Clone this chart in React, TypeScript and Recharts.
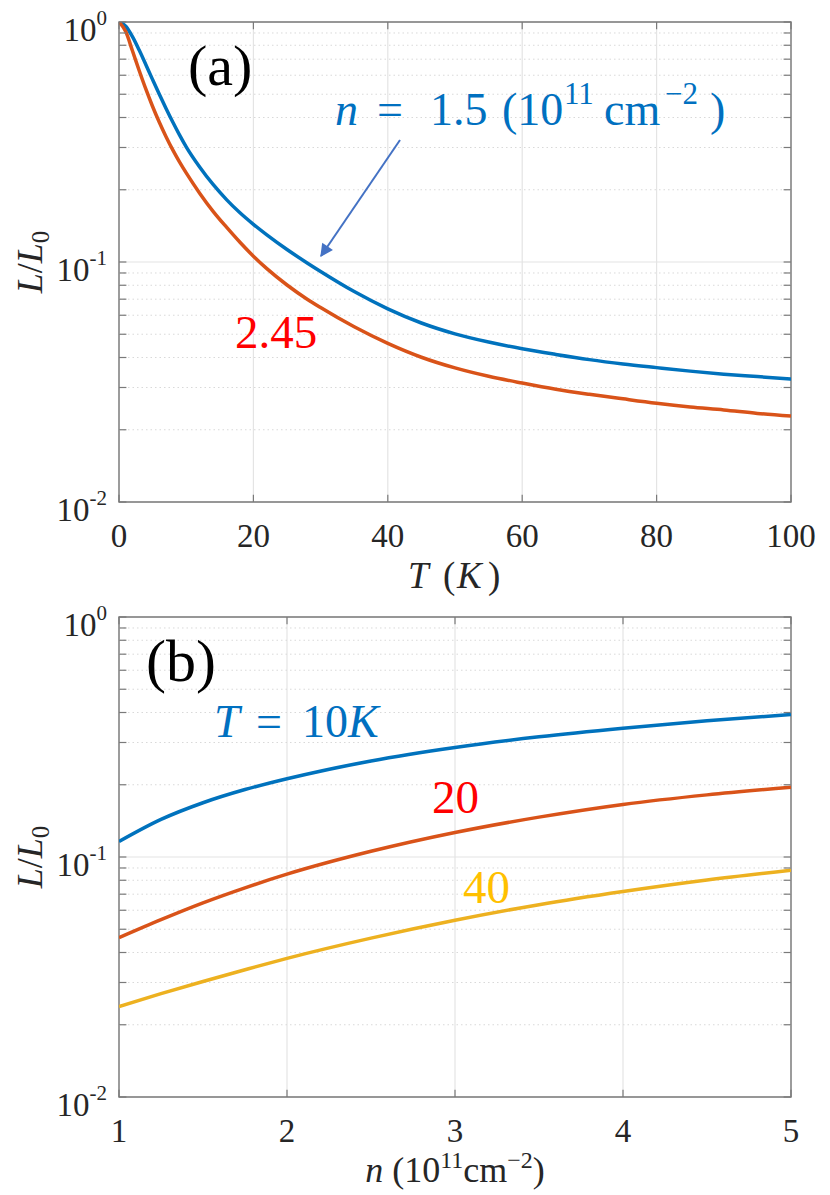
import React from "react";
import {
  LineChart,
  Line,
  XAxis,
  YAxis,
  CartesianGrid,
  ReferenceLine,
  ReferenceArea,
} from "recharts";

// panel (a): L/L0 versus T
const tempsA = [
  0, 1, 2, 3, 4, 5, 6, 7, 8, 9, 10, 12, 14, 16, 18, 20, 22, 25, 28, 30, 35, 40,
  45, 50, 55, 60, 65, 70, 75, 80, 85, 90, 95, 100,
];
const blueA = [
  1.0, 0.9605, 0.869, 0.7638, 0.6637, 0.5754, 0.5, 0.4365, 0.3832, 0.3388,
  0.302, 0.2489, 0.2104, 0.182, 0.1603, 0.1435, 0.1297, 0.1127, 0.0991, 0.0913,
  0.0753, 0.0638, 0.0557, 0.0502, 0.0464, 0.0435, 0.0412, 0.0392, 0.0376,
  0.0363, 0.0351, 0.0341, 0.0333, 0.0325,
];
const orangeA = [
  1.0, 0.912, 0.7586, 0.628, 0.5248, 0.4446, 0.382, 0.3327, 0.2931, 0.2612,
  0.235, 0.1936, 0.1626, 0.1396, 0.1208, 0.1057, 0.0938, 0.0802, 0.07, 0.0646,
  0.0537, 0.0458, 0.0401, 0.0362, 0.0334, 0.0313, 0.0295, 0.0281, 0.0269, 0.0258,
  0.0249, 0.0242, 0.0234, 0.0228,
];

// panel (b): L/L0 versus n
const densB = [1, 1.25, 1.5, 1.75, 2, 2.5, 3, 3.5, 4, 4.5, 5];
const t10B = [0.116, 0.1434, 0.1683, 0.191, 0.2118, 0.2513, 0.286, 0.3167, 0.344, 0.3694, 0.3922];
const t20B = [0.0461, 0.0548, 0.0644, 0.0744, 0.0848, 0.1056, 0.1265, 0.1466, 0.1656, 0.1815, 0.1954];
const t40B = [0.0238, 0.02695, 0.0303, 0.0339, 0.0378, 0.0459, 0.0545, 0.0633, 0.0718, 0.0802, 0.0881];

const xTicksA = [0, 20, 40, 60, 80, 100];
const xTicksB = [1, 2, 3, 4, 5];
const yTicks = [0.01, 0.1, 1];
const yMinor = [
  0.02, 0.03, 0.04, 0.05, 0.06, 0.07, 0.08, 0.09, 0.2, 0.3, 0.4, 0.5, 0.6, 0.7,
  0.8, 0.9,
];

const dataA = tempsA.map((t, i) => ({ x: t, blue: blueA[i], orange: orangeA[i] }));
const dataB = densB.map((n, i) => ({ x: n, t10: t10B[i], t20: t20B[i], t40: t40B[i] }));

const SERIF = "Liberation Serif";
const AXIS = "#262626";
const BOX = "#7a7a7a";
const BLUE_TXT = "#0070C0";

const YTick = (props: any) => {
  const { x, y, payload } = props;
  const e = Math.round(Math.log10(payload.value));
  return (
    <text x={x - 4} y={y + 19} textAnchor="end" style={{ fontFamily: SERIF }} fontSize={33} fill={AXIS}>
      <tspan>10</tspan>
      <tspan dy={-16} fontSize={21}>
        {e === 0 ? "0" : "-" + Math.abs(e)}
      </tspan>
    </text>
  );
};

const XTick = (props: any) => {
  const { x, y, payload } = props;
  return (
    <text x={x} y={y + 37} textAnchor="middle" style={{ fontFamily: SERIF }} fontSize={33} fill={AXIS}>
      {payload.value}
    </text>
  );
};

interface Series {
  key: string;
  color: string;
}

function Panel({
  data,
  xDomain,
  xTicks,
  series,
}: {
  data: Record<string, number>[];
  xDomain: [number, number];
  xTicks: number[];
  series: Series[];
}) {
  const [x0, x1] = xDomain;
  const dx = (x1 - x0) * 0.011;
  const ky = Math.pow(10, 0.03);
  const allY = [...yTicks, ...yMinor];
  return (
    <LineChart
      width={830}
      height={600}
      data={data}
      margin={{ top: 22, right: 39, bottom: 38, left: 39 }}
    >
      <CartesianGrid stroke="#e4e4e4" strokeWidth={1.2} />
      <XAxis
        dataKey="x"
        type="number"
        domain={xDomain}
        ticks={xTicks}
        allowDataOverflow
        height={60}
        tickSize={6}
        tickMargin={2}
        tickLine={false}
        axisLine={false}
        tick={XTick}
      />
      <YAxis
        type="number"
        scale="log"
        domain={[0.01, 1]}
        ticks={yTicks}
        allowDataOverflow
        width={80}
        tickSize={6}
        tickMargin={2}
        tickLine={false}
        axisLine={false}
        tick={YTick}
      />
      {yMinor.map((v) => (
        <ReferenceLine key={"g" + v} y={v} stroke="#d9d9d9" strokeDasharray="1.5 3" />
      ))}
      {series.map((s) => (
        <Line
          key={s.key}
          type="monotone"
          dataKey={s.key}
          stroke={s.color}
          strokeWidth={3.5}
          dot={false}
          isAnimationActive={false}
        />
      ))}
      {allY.map((v) => (
        <ReferenceLine
          key={"l" + v}
          segment={[
            { x: x0, y: v },
            { x: x0 + dx, y: v },
          ]}
          stroke={BOX}
          strokeWidth={1.2}
        />
      ))}
      {allY.map((v) => (
        <ReferenceLine
          key={"r" + v}
          segment={[
            { x: x1 - dx, y: v },
            { x: x1, y: v },
          ]}
          stroke={BOX}
          strokeWidth={1.2}
        />
      ))}
      {xTicks.map((t) => (
        <ReferenceLine
          key={"b" + t}
          segment={[
            { x: t, y: 0.01 },
            { x: t, y: 0.01 * ky },
          ]}
          stroke={BOX}
          strokeWidth={1.2}
        />
      ))}
      {xTicks.map((t) => (
        <ReferenceLine
          key={"t" + t}
          segment={[
            { x: t, y: 1 / ky },
            { x: t, y: 1 },
          ]}
          stroke={BOX}
          strokeWidth={1.2}
        />
      ))}
      <ReferenceArea
        x1={x0}
        x2={x1}
        y1={0.01}
        y2={1}
        fill="none"
        fillOpacity={0}
        stroke={BOX}
        strokeWidth={1.4}
      />
    </LineChart>
  );
}

function YTitle({ cy }: { cy: number }) {
  return (
    <text
      x={42}
      y={cy}
      transform={`rotate(-90 42 ${cy})`}
      textAnchor="middle"
      fontSize={36}
      fill={AXIS}
    >
      <tspan fontStyle="italic">L</tspan>
      <tspan>/</tspan>
      <tspan fontStyle="italic">L</tspan>
      <tspan dy={7} fontSize={25}>
        0
      </tspan>
    </text>
  );
}

export default function App() {
  return (
    <div
      style={{
        position: "absolute",
        left: 0,
        top: 0,
        width: 830,
        height: 1195,
        background: "#fff",
        fontFamily: SERIF,
      }}
    >
      <div style={{ position: "absolute", left: 0, top: 0 }}>
        <Panel
          data={dataA}
          xDomain={[0, 100]}
          xTicks={xTicksA}
          series={[
            { key: "blue", color: "#0072BD" },
            { key: "orange", color: "#D95319" },
          ]}
        />
      </div>
      <div style={{ position: "absolute", left: 0, top: 595 }}>
        <Panel
          data={dataB}
          xDomain={[1, 5]}
          xTicks={xTicksB}
          series={[
            { key: "t10", color: "#0072BD" },
            { key: "t20", color: "#D95319" },
            { key: "t40", color: "#EDB120" },
          ]}
        />
      </div>
      <svg
        width={830}
        height={1195}
        style={{ position: "absolute", left: 0, top: 0, pointerEvents: "none", fontFamily: SERIF }}
      >
        <defs>
          <marker
            id="head"
            viewBox="0 0 10 10"
            refX="9"
            refY="5"
            markerWidth="8"
            markerHeight="6.5"
            markerUnits="strokeWidth"
            orient="auto"
          >
            <path d="M0,0 L10,5 L0,10 z" fill="#4472C4" />
          </marker>
        </defs>

        {/* panel (a) annotations */}
        <text x={188} y={85} fontSize={58} fill="#000">
          (a)
        </text>
        <g fill={BLUE_TXT} fontSize={46}>
          <text x={335} y={125} fontStyle="italic">n</text>
          <text x={377} y={125}>=</text>
          <text x={430} y={125}>1.5</text>
          <text x={502} y={125}>(10</text>
          <text x={564} y={104} fontSize={31}>11</text>
          <text x={604} y={125}>cm</text>
          <text x={665} y={104} fontSize={31}>{"\u22122"}</text>
          <text x={710} y={125}>)</text>
        </g>
        <line
          x1={400}
          y1={140}
          x2={321}
          y2={256}
          stroke="#4472C4"
          strokeWidth={2}
          markerEnd="url(#head)"
        />
        <text x={235} y={348} fontSize={47} fill="#FF0000">
          2.45
        </text>
        <YTitle cy={262} />
        <g fontSize={37} fill={AXIS}>
          <text x={408} y={588} fontStyle="italic">T</text>
          <text x={443} y={588}>(</text>
          <text x={457} y={588} fontStyle="italic">K</text>
          <text x={488} y={588}>)</text>
        </g>

        {/* panel (b) annotations */}
        <text x={146} y={681} fontSize={60} fill="#000">
          (b)
        </text>
        <g fill={BLUE_TXT} fontSize={46}>
          <text x={214} y={737} fontStyle="italic">T</text>
          <text x={256} y={737}>=</text>
          <text x={302} y={737}>10</text>
          <text x={348} y={737} fontStyle="italic">K</text>
        </g>
        <text x={432} y={813} fontSize={47} fill="#FF0000">
          20
        </text>
        <text x={463} y={903} fontSize={47} fill="#FFC000">
          40
        </text>
        <YTitle cy={857} />
        <text x={455} y={1182} textAnchor="middle" fontSize={36} fill={AXIS}>
          <tspan fontStyle="italic">n</tspan>
          <tspan>{" (10"}</tspan>
          <tspan dy={-14} fontSize={24}>
            11
          </tspan>
          <tspan dy={14}>cm</tspan>
          <tspan dy={-14} fontSize={24}>
            {"\u22122"}
          </tspan>
          <tspan dy={14}>)</tspan>
        </text>
      </svg>
    </div>
  );
}
